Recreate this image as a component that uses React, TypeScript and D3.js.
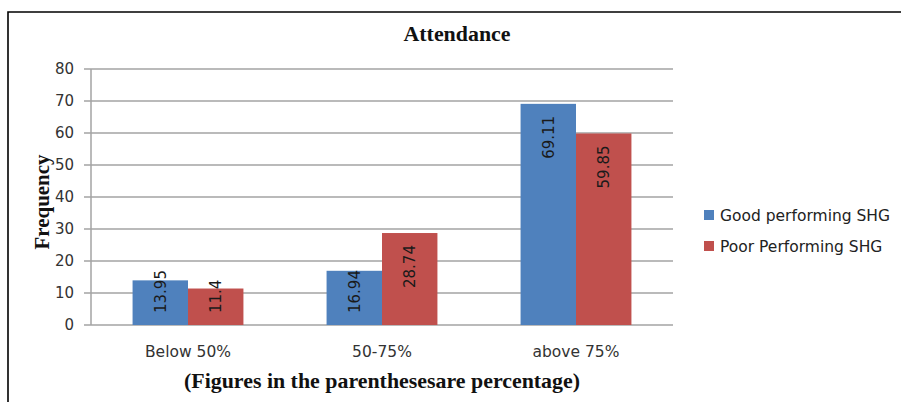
import React, { useEffect, useRef } from "react";
import * as d3 from "d3";

const categories = ["Below 50%", "50-75%", "above 75%"];
const seriesNames = ["Good performing SHG", "Poor Performing SHG"];
const goodValues = [13.95, 16.94, 69.11];
const poorValues = [11.4, 28.74, 59.85];
const seriesColors = ["#4F81BD", "#C0504D"];
const yTicks = [0, 10, 20, 30, 40, 50, 60, 70, 80];

const W = 901;
const H = 402;
const SANS = "'DejaVu Sans', Verdana, sans-serif";
const SERIF = "'Liberation Serif', 'Times New Roman', serif";

export default function App() {
  const ref = useRef<SVGSVGElement | null>(null);

  useEffect(() => {
    const svg = d3.select(ref.current);
    svg.selectAll("*").remove();

    const left = 91, right = 673, top = 69, bottom = 325;

    const x0 = d3.scaleBand<string>().domain(categories).range([left, right])
      .paddingInner(1.5 / 3.5).paddingOuter(0.75 / 3.5);
    const x1 = d3.scaleBand<string>().domain(seriesNames).range([0, x0.bandwidth()]);
    const y = d3.scaleLinear().domain([0, 80]).range([bottom, top]);

    // outer frame (top and left edges)
    svg.append("path").attr("d", `M8,402 L8,12 L901,12`)
      .attr("fill", "none").attr("stroke", "#000").attr("stroke-width", 1.6);

    // title
    svg.append("text").attr("x", 457).attr("y", 41).attr("text-anchor", "middle")
      .attr("font-family", SERIF).attr("font-weight", "bold").attr("font-size", 20)
      .attr("textLength", 107).attr("lengthAdjust", "spacingAndGlyphs")
      .attr("fill", "#111").text("Attendance");

    // gridlines and ticks
    const g = svg.append("g");
    g.selectAll("line.grid").data(yTicks).enter().append("line")
      .attr("x1", left - 7).attr("x2", right)
      .attr("y1", (d) => y(d)).attr("y2", (d) => y(d))
      .attr("stroke", "#a3a3a3").attr("stroke-width", 1.5);
    g.append("line").attr("x1", left).attr("x2", left).attr("y1", top).attr("y2", bottom)
      .attr("stroke", "#a3a3a3").attr("stroke-width", 1.5);
    g.selectAll("text.tick").data(yTicks).enter().append("text")
      .attr("x", 74).attr("y", (d) => y(d)).attr("dy", "0.36em")
      .attr("text-anchor", "end").attr("font-family", SANS).attr("font-size", 15)
      .attr("fill", "#333").text((d) => String(d));

    // bars
    const rows = categories.map((c, i) => [
      { cat: c, s: seriesNames[0], v: goodValues[i], color: seriesColors[0] },
      { cat: c, s: seriesNames[1], v: poorValues[i], color: seriesColors[1] },
    ]).flat();

    svg.append("g").selectAll("rect").data(rows).enter().append("rect")
      .attr("x", (d) => (x0(d.cat) as number) + (x1(d.s) as number))
      .attr("width", x1.bandwidth())
      .attr("y", (d) => y(d.v))
      .attr("height", (d) => bottom - y(d.v))
      .attr("fill", (d) => d.color);

    // rotated value labels
    const lg = svg.append("g");
    rows.forEach((d) => {
      const cx = (x0(d.cat) as number) + (x1(d.s) as number) + x1.bandwidth() / 2;
      const t = lg.append("text").attr("font-family", SANS).attr("font-size", 15)
        .attr("fill", "#1a1a1a").attr("dy", "0.36em").attr("text-anchor", "start")
        .text(String(d.v));
      const len = (t.node() as SVGTextElement).getComputedTextLength();
      const labelTop = Math.min(y(d.v) + 12, bottom - 12 - len);
      t.attr("transform", `translate(${cx},${labelTop + len}) rotate(-90)`);
    });

    // category labels
    svg.append("g").selectAll("text").data(categories).enter().append("text")
      .attr("x", (d) => (x0(d) as number) + x0.bandwidth() / 2).attr("y", 357)
      .attr("text-anchor", "middle").attr("font-family", SANS).attr("font-size", 15.5)
      .attr("fill", "#333").text((d) => d);

    // axis titles
    svg.append("text").attr("x", (left + right) / 2).attr("y", 388).attr("text-anchor", "middle")
      .attr("font-family", SERIF).attr("font-weight", "bold").attr("font-size", 21)
      .attr("textLength", 396).attr("lengthAdjust", "spacingAndGlyphs")
      .attr("fill", "#111").text("(Figures in the parenthesesare percentage)");
    svg.append("text").attr("transform", `translate(49,202) rotate(-90)`)
      .attr("text-anchor", "middle").attr("font-family", SERIF).attr("font-weight", "bold")
      .attr("font-size", 21).attr("textLength", 95).attr("lengthAdjust", "spacingAndGlyphs")
      .attr("fill", "#111").text("Frequency");

    // legend
    const leg = svg.append("g");
    seriesNames.forEach((name, i) => {
      const ly = 215 + i * 31;
      leg.append("rect").attr("x", 704).attr("y", ly - 5).attr("width", 10).attr("height", 10)
        .attr("fill", seriesColors[i]);
      leg.append("text").attr("x", 720).attr("y", ly).attr("dy", "0.36em")
        .attr("font-family", SANS).attr("font-size", 15.5).attr("fill", "#222").text(name);
    });
  }, []);

  return (
    <svg ref={ref} width={W} height={H}
      style={{ position: "absolute", left: 0, top: 0, background: "#fff" }} />
  );
}
